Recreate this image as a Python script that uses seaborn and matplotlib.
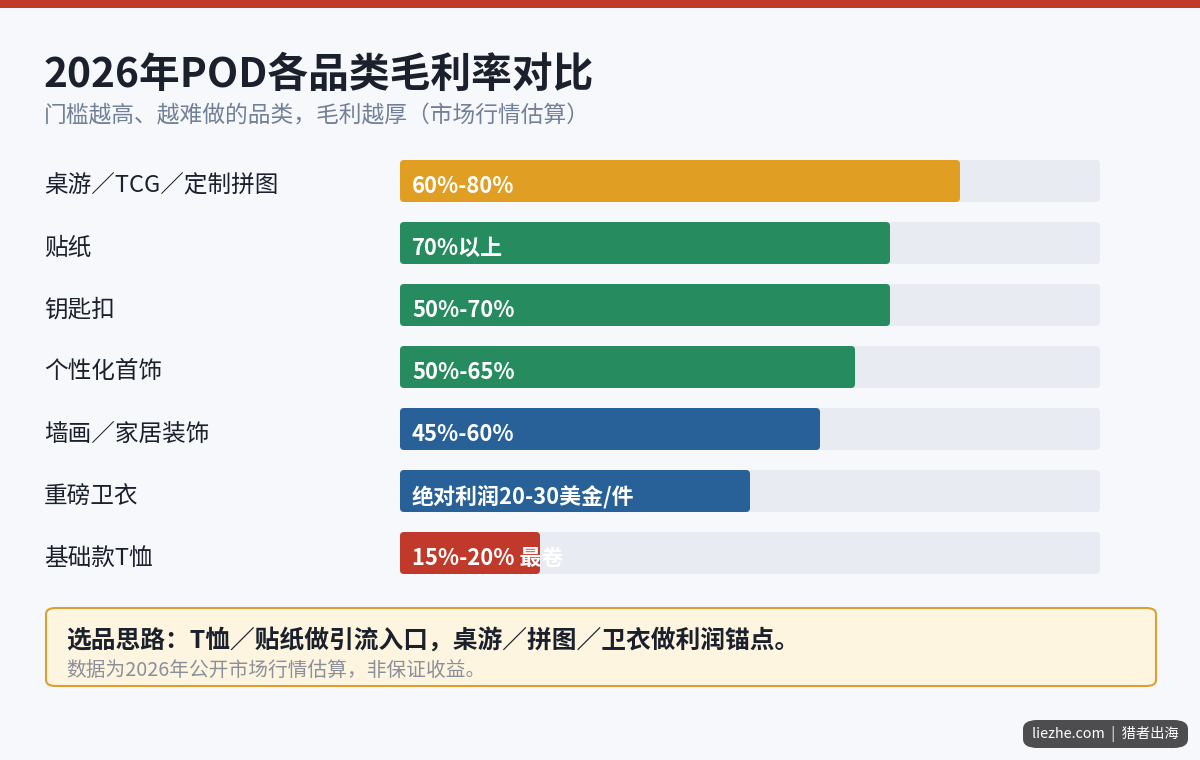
import matplotlib
matplotlib.use("Agg")
import matplotlib.pyplot as plt
import seaborn as sns
import pandas as pd
from matplotlib.patches import FancyBboxPatch, Rectangle

categories = ["桌游／TCG／定制拼图", "贴纸", "钥匙扣", "个性化首饰", "墙画／家居装饰", "重磅卫衣", "基础款T恤"]
values = [80, 70, 70, 65, 60, 50, 20]
bar_labels = ["60%-80%", "70%以上", "50%-70%", "50%-65%", "45%-60%", "绝对利润20-30美金/件", "15%-20% 最卷"]
bar_colors = ["#e09e22", "#268b5f", "#268b5f", "#268b5f", "#286198", "#286198", "#c0392b"]
track_max = [100] * len(categories)

title = "2026年POD各品类毛利率对比"
subtitle = "门槛越高、越难做的品类，毛利越厚（市场行情估算）"
note_main = "选品思路：T恤／贴纸做引流入口，桌游／拼图／卫衣做利润锚点。"
note_sub = "数据为2026年公开市场行情估算，非保证收益。"
badge = "liezhe.com  |  猎者出海"

sns.set_theme(style="white")
plt.rcParams["font.family"] = ["Noto Sans CJK SC", "DejaVu Sans"]

BG = "#f7f8fc"
W, H = 1200, 760
fig = plt.figure(figsize=(12, 7.6), dpi=100, facecolor=BG)

def fx(px):
    return px / W

def fy(py):
    return 1 - py / H

# top stripe
fig.patches.append(Rectangle((0, fy(8)), 1, 8 / H, transform=fig.transFigure,
                             facecolor="#c0392b", edgecolor="none", zorder=0))

fig.text(fx(44), fy(75), title, fontsize=29.3, fontweight="bold", color="#1a202c", va="center")
fig.text(fx(44), fy(116), subtitle, fontsize=16.4, color="#718096", va="center")

df = pd.DataFrame({"cat": categories, "val": values, "track": track_max})

ax = fig.add_axes([fx(400), fy(584), fx(700), 434 / H])
ax.set_facecolor("none")
sns.barplot(data=df, x="track", y="cat", color="#e8ebf1", width=42 / 62, ax=ax,
            saturation=1, edgecolor="none", orient="h")
sns.barplot(data=df, x="val", y="cat", hue="cat", palette=bar_colors, width=42 / 62, ax=ax,
            saturation=1, edgecolor="none", legend=False, orient="h")
ax.set_xlim(0, 100)
ax.set_ylim(len(categories) - 0.5, -0.5)
ax.set_xlabel("")
ax.set_ylabel("")
ax.set_xticks([])
ax.set_yticks([])
for s in ax.spines.values():
    s.set_visible(False)

# round the bar corners (convert seaborn's rectangles into rounded boxes)
px_x = 7.0   # pixels per x unit
px_y = 62.0  # pixels per y unit
r_px = 4.0
for p in list(ax.patches):
    x0, y0 = p.get_x(), p.get_y()
    w, h = p.get_width(), p.get_height()
    if w <= 0:
        continue
    rb = FancyBboxPatch((x0, y0), w, h,
                        boxstyle=f"round,pad=0,rounding_size={r_px / px_x}",
                        mutation_aspect=px_x / px_y,
                        facecolor=p.get_facecolor(), edgecolor="none", zorder=p.get_zorder())
    p.set_visible(False)
    ax.add_patch(rb)

for i, (cat, lab) in enumerate(zip(categories, bar_labels)):
    ax.text(1.7, i + 0.09, lab, fontsize=15.8, fontweight="bold", color="white", va="center", ha="left")
    fig.text(fx(44), fy(181 + 62 * i + 5), cat, fontsize=17, fontweight="medium",
             color="#1a202c", va="center", ha="left")

# note box
box = FancyBboxPatch((fx(46), fy(686)), fx(1110), 78 / H,
                     boxstyle="round,pad=0,rounding_size=0.008",
                     transform=fig.transFigure, facecolor="#fef5e0", edgecolor="#dca032",
                     linewidth=1.5, zorder=1)
fig.patches.append(box)
fig.text(fx(66), fy(641), note_main, fontsize=17.8, fontweight="bold", color="#1a202c", va="center")
fig.text(fx(66), fy(670), note_sub, fontsize=14.2, color="#8a8f99", va="center")

# badge
bbox = FancyBboxPatch((fx(1023), fy(748)), fx(165), 28 / H,
                      boxstyle="round,pad=0,rounding_size=0.012",
                      transform=fig.transFigure, facecolor="#4d4d4f", edgecolor="none", zorder=1)
fig.patches.append(bbox)
fig.text(fx(1105), fy(734), badge, fontsize=10.3, fontweight="medium", color="white",
         va="center", ha="center")

fig.savefig("out.png", dpi=100, facecolor=BG)
